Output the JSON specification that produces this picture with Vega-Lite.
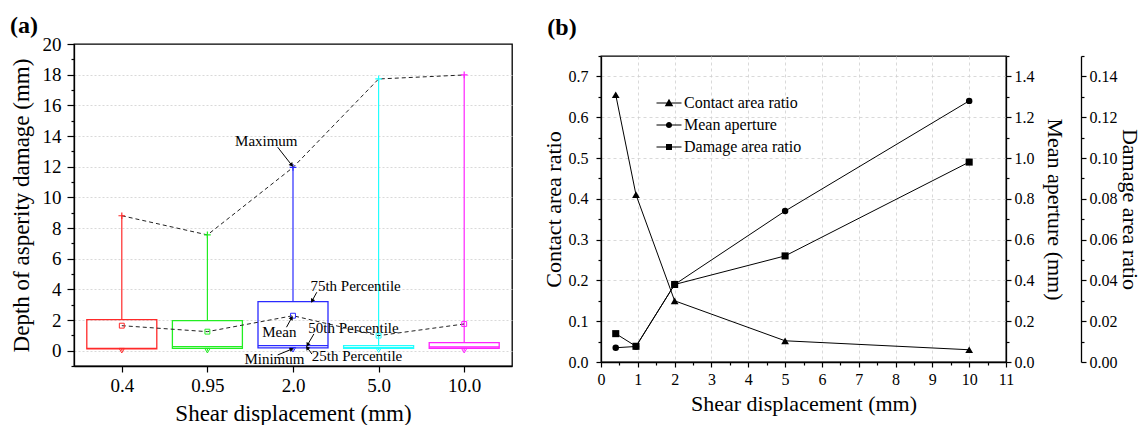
{
  "$schema": "https://vega.github.io/schema/vega-lite/v6.json",
  "background": "white",
  "padding": {"left": 9, "top": 13, "right": 0, "bottom": 0},
  "spacing": 28,
  "resolve": {"legend": {"shape": "independent"}},
  "config": {
    "font": "Liberation Serif",
    "view": {"stroke": "black", "strokeWidth": 1.3},
    "axis": {
      "labelFont": "Liberation Serif",
      "titleFont": "Liberation Serif",
      "labelColor": "black",
      "titleColor": "black",
      "titleFontWeight": "normal",
      "domainColor": "black",
      "tickColor": "black",
      "domainWidth": 1.3,
      "tickWidth": 1.2,
      "labelFlush": false,
      "labelOverlap": false,
      "gridColor": "#cfcfcf",
      "gridWidth": 0.8
    },
    "title": {
      "font": "Liberation Serif",
      "fontWeight": "bold",
      "fontSize": 24,
      "anchor": "start",
      "frame": "bounds",
      "color": "black"
    }
  },
  "hconcat": [
    {
      "width": 438,
      "height": 322,
      "view": {"stroke": "black", "strokeWidth": 1.3},
      "title": {"text": "(a)", "offset": -3},
      "data": {
        "values": [
          {"group": 1, "shear": "0.4", "min": 0.0, "q1": 0.12, "median": 0.15, "q3": 2.02, "max": 8.8, "mean": 1.63},
          {"group": 2, "shear": "0.95", "min": 0.0, "q1": 0.15, "median": 0.26, "q3": 1.96, "max": 7.55, "mean": 1.24},
          {"group": 3, "shear": "2.0", "min": 0.06, "q1": 0.18, "median": 0.33, "q3": 3.2, "max": 11.95, "mean": 2.28},
          {"group": 4, "shear": "5.0", "min": 0.04, "q1": 0.15, "median": 0.2, "q3": 0.33, "max": 17.72, "mean": 0.98},
          {"group": 5, "shear": "10.0", "min": 0.0, "q1": 0.15, "median": 0.24, "q3": 0.52, "max": 17.98, "mean": 1.74}
        ]
      },
      "resolve": {"axis": {"x": "independent", "y": "independent"}},
      "layer": [
        {
          "mark": {"type": "bar", "filled": false, "width": 70, "strokeWidth": 1.3},
          "encoding": {
            "x": {
              "field": "group", "type": "quantitative",
              "scale": {"domain": [0.5, 5.5], "nice": false, "zero": false},
              "axis": {
                "orient": "bottom",
                "values": [1, 2, 3, 4, 5],
                "labelExpr": "datum.value == 1 ? '0.4' : datum.value == 2 ? '0.95' : datum.value == 3 ? '2.0' : datum.value == 4 ? '5.0' : '10.0'",
                "title": "Shear displacement (mm)",
                "grid": false,
                "tickSize": 6,
                "labelFontSize": 19,
                "titleFontSize": 23,
                "labelPadding": 4,
                "titlePadding": 7
              }
            },
            "y": {
              "field": "q1", "type": "quantitative",
              "scale": {"domain": [-1, 20], "nice": false, "zero": false},
              "axis": {
                "orient": "left",
                "values": [0, 2, 4, 6, 8, 10, 12, 14, 16, 18, 20],
                "title": "Depth of asperity damage (mm)",
                "grid": true,
                "gridDash": [2, 2],
                "gridOpacity": {"condition": {"test": "datum.value >= 20", "value": 0}, "value": 1},
                "tickSize": 7,
                "labelFontSize": 19,
                "titleFontSize": 23,
                "labelPadding": 6,
                "titlePadding": 9
              }
            },
            "y2": {"field": "q3"},
            "color": {
              "field": "shear", "type": "nominal",
              "scale": {"domain": ["0.4", "0.95", "2.0", "5.0", "10.0"], "range": ["#ff2a2a", "#22ee22", "#2a2aff", "#22ffff", "#ff22ff"]},
              "legend": null
            }
          }
        },
        {
          "mark": {"type": "bar", "filled": false, "width": 70, "strokeWidth": 1.3},
          "encoding": {
            "x": {"field": "group", "type": "quantitative", "axis": null},
            "y": {"field": "median", "type": "quantitative", "axis": null},
            "y2": {"field": "median"},
            "color": {"field": "shear", "type": "nominal", "legend": null}
          }
        },
        {
          "mark": {"type": "rule", "strokeWidth": 1.2},
          "encoding": {
            "x": {"field": "group", "type": "quantitative", "axis": null},
            "y": {"field": "q3", "type": "quantitative", "axis": null},
            "y2": {"field": "max"},
            "color": {"field": "shear", "type": "nominal", "legend": null}
          }
        },
        {
          "mark": {"type": "rule", "strokeWidth": 1.2},
          "encoding": {
            "x": {"field": "group", "type": "quantitative", "axis": null},
            "y": {
              "field": "min", "type": "quantitative",
              "axis": {
                "orient": "left",
                "values": [-1, 1, 3, 5, 7, 9, 11, 13, 15, 17, 19],
                "labels": false,
                "domain": false,
                "grid": false,
                "tickSize": 3,
                "title": null
              }
            },
            "y2": {"field": "q1"},
            "color": {"field": "shear", "type": "nominal", "legend": null}
          }
        },
        {
          "mark": {"type": "line", "strokeDash": [4, 3], "strokeWidth": 1, "color": "#222222"},
          "encoding": {
            "x": {"field": "group", "type": "quantitative", "axis": null},
            "y": {"field": "max", "type": "quantitative", "axis": null}
          }
        },
        {
          "mark": {"type": "line", "strokeDash": [4, 3], "strokeWidth": 1, "color": "#222222"},
          "encoding": {
            "x": {"field": "group", "type": "quantitative", "axis": null},
            "y": {"field": "mean", "type": "quantitative", "axis": null}
          }
        },
        {
          "mark": {"type": "point", "shape": "M-1,0H1M0,-1V1", "filled": false, "size": 45, "strokeWidth": 1.2, "opacity": 1},
          "encoding": {
            "x": {"field": "group", "type": "quantitative", "axis": null},
            "y": {"field": "max", "type": "quantitative", "axis": null},
            "color": {"field": "shear", "type": "nominal", "legend": null}
          }
        },
        {
          "mark": {"type": "point", "shape": "triangle-down", "filled": false, "size": 28, "strokeWidth": 1, "opacity": 1},
          "encoding": {
            "x": {"field": "group", "type": "quantitative", "axis": null},
            "y": {"field": "min", "type": "quantitative", "axis": null},
            "color": {"field": "shear", "type": "nominal", "legend": null}
          }
        },
        {
          "mark": {"type": "point", "shape": "square", "filled": false, "size": 24, "strokeWidth": 1, "opacity": 1},
          "encoding": {
            "x": {"field": "group", "type": "quantitative", "axis": null},
            "y": {"field": "mean", "type": "quantitative", "axis": null},
            "color": {"field": "shear", "type": "nominal", "legend": null}
          }
        },
        {
          "data": {
            "values": [
              {"x": 2.821, "y": 13.27, "x2": 2.985, "y2": 12.1, "angle": 141},
              {"x": 3.278, "y": 3.81, "x2": 3.223, "y2": 3.25, "angle": 208},
              {"x": 2.924, "y": 1.53, "x2": 2.985, "y2": 2.15, "angle": 31},
              {"x": 3.244, "y": 1.09, "x2": 3.17, "y2": 0.38, "angle": 210},
              {"x": 2.821, "y": -0.28, "x2": 2.985, "y2": 0.1, "angle": 68},
              {"x": 3.221, "y": -0.22, "x2": 3.166, "y2": 0.2, "angle": 323}
            ]
          },
          "layer": [
            {
              "mark": {"type": "rule", "color": "black", "strokeWidth": 1},
              "encoding": {
                "x": {"field": "x", "type": "quantitative", "axis": null},
                "y": {"field": "y", "type": "quantitative", "axis": null},
                "x2": {"field": "x2"},
                "y2": {"field": "y2"}
              }
            },
            {
              "mark": {"type": "point", "shape": "triangle-up", "filled": true, "size": 22, "color": "black", "opacity": 1},
              "encoding": {
                "x": {"field": "x2", "type": "quantitative", "axis": null},
                "y": {"field": "y2", "type": "quantitative", "axis": null},
                "angle": {"field": "angle", "type": "quantitative", "scale": null}
              }
            }
          ]
        },
        {
          "data": {
            "values": [
              {"label": "Maximum", "x": 2.688, "y": 13.7},
              {"label": "75th Percentile", "x": 3.731, "y": 4.2},
              {"label": "Mean", "x": 2.84, "y": 1.2},
              {"label": "50th Percentile", "x": 3.706, "y": 1.46},
              {"label": "Minimum", "x": 2.783, "y": -0.54},
              {"label": "25th Percentile", "x": 3.748, "y": -0.37}
            ]
          },
          "mark": {"type": "text", "font": "Liberation Serif", "fontSize": 15, "color": "black", "align": "center", "baseline": "middle"},
          "encoding": {
            "x": {"field": "x", "type": "quantitative", "axis": null},
            "y": {"field": "y", "type": "quantitative", "axis": null},
            "text": {"field": "label"}
          }
        }
      ]
    },
    {
      "title": {"text": "(b)", "offset": 3, "dx": 6},
      "spacing": 0,
      "resolve": {"legend": {"shape": "independent"}},
      "vconcat": [
        {
          "width": 405,
          "height": 9,
          "view": {"stroke": null},
          "data": {"values": [{"blank": ""}]},
          "mark": {"type": "text"},
          "encoding": {"text": {"field": "blank"}}
        },
        {
          "width": 405,
          "height": 306,
          "view": {"stroke": "black", "strokeWidth": 1.3},
          "data": {
            "values": [
              {"shear": 0.4, "contact": 0.655, "aperture": 0.07, "damage": 0.0139},
              {"shear": 0.95, "contact": 0.41, "aperture": 0.076, "damage": 0.0077},
              {"shear": 2, "contact": 0.15, "aperture": 0.38, "damage": 0.038},
              {"shear": 5, "contact": 0.052, "aperture": 0.74, "damage": 0.052},
              {"shear": 10, "contact": 0.03, "aperture": 1.28, "damage": 0.098}
            ]
          },
          "resolve": {"scale": {"y": "independent"}, "axis": {"x": "independent", "y": "independent"}},
          "layer": [
            {
              "resolve": {"axis": {"x": "independent", "y": "independent"}},
              "layer": [
                {
                  "mark": {"type": "line", "color": "black", "strokeWidth": 1},
                  "encoding": {
                    "x": {
                      "field": "shear", "type": "quantitative",
                      "scale": {"domain": [0, 11], "nice": false, "zero": false},
                      "axis": {
                        "orient": "bottom",
                        "values": [0, 1, 2, 3, 4, 5, 6, 7, 8, 9, 10, 11],
                        "title": "Shear displacement (mm)",
                        "grid": true,
                        "gridDash": [3, 3],
                        "tickSize": 5,
                        "labelFontSize": 16,
                        "titleFontSize": 22,
                        "labelPadding": 4,
                        "titlePadding": 6
                      }
                    },
                    "y": {
                      "field": "contact", "type": "quantitative",
                      "scale": {"domain": [0, 0.75], "nice": false, "zero": false},
                      "axis": {
                        "orient": "left",
                        "values": [0, 0.1, 0.2, 0.3, 0.4, 0.5, 0.6, 0.7],
                        "format": ".1f",
                        "title": "Contact area ratio",
                        "grid": true,
                        "gridDash": [3, 3],
                        "tickSize": 5,
                        "labelFontSize": 16,
                        "titleFontSize": 22,
                        "labelPadding": 8,
                        "titlePadding": 3
                      }
                    }
                  }
                },
                {
                  "mark": {"type": "point", "shape": "triangle-up", "filled": true, "size": 60, "color": "black", "opacity": 1},
                  "encoding": {
                    "x": {
                      "field": "shear", "type": "quantitative",
                      "axis": {
                        "orient": "bottom",
                        "values": [0.5, 1.5, 2.5, 3.5, 4.5, 5.5, 6.5, 7.5, 8.5, 9.5, 10.5],
                        "labels": false, "domain": false, "grid": false, "tickSize": 3, "title": null
                      }
                    },
                    "y": {
                      "field": "contact", "type": "quantitative",
                      "axis": {
                        "orient": "left",
                        "values": [0.05, 0.15, 0.25, 0.35, 0.45, 0.55, 0.65, 0.75],
                        "labels": false, "domain": false, "grid": false, "tickSize": 3, "title": null
                      }
                    }
                  }
                }
              ]
            },
            {
              "resolve": {"axis": {"y": "independent"}},
              "layer": [
                {
                  "mark": {"type": "line", "color": "black", "strokeWidth": 1},
                  "encoding": {
                    "x": {"field": "shear", "type": "quantitative", "axis": null},
                    "y": {
                      "field": "aperture", "type": "quantitative",
                      "scale": {"domain": [0, 1.5], "nice": false, "zero": false},
                      "axis": {
                        "orient": "right",
                        "values": [0, 0.2, 0.4, 0.6, 0.8, 1.0, 1.2, 1.4],
                        "format": ".1f",
                        "title": "Mean aperture (mm)",
                        "grid": false,
                        "tickSize": 5,
                        "labelFontSize": 16,
                        "titleFontSize": 22,
                        "labelPadding": 3,
                        "titlePadding": 8
                      }
                    }
                  }
                },
                {
                  "mark": {"type": "point", "shape": "circle", "filled": true, "size": 42, "color": "black", "opacity": 1},
                  "encoding": {
                    "x": {"field": "shear", "type": "quantitative", "axis": null},
                    "y": {
                      "field": "aperture", "type": "quantitative",
                      "axis": {
                        "orient": "right",
                        "values": [0.1, 0.3, 0.5, 0.7, 0.9, 1.1, 1.3, 1.5],
                        "labels": false, "domain": false, "grid": false, "tickSize": 3, "title": null
                      }
                    }
                  }
                }
              ]
            },
            {
              "resolve": {"axis": {"y": "independent"}},
              "layer": [
                {
                  "mark": {"type": "line", "color": "black", "strokeWidth": 1},
                  "encoding": {
                    "x": {"field": "shear", "type": "quantitative", "axis": null},
                    "y": {
                      "field": "damage", "type": "quantitative",
                      "scale": {"domain": [0, 0.15], "nice": false, "zero": false},
                      "axis": {
                        "orient": "right",
                        "offset": 75,
                        "values": [0, 0.02, 0.04, 0.06, 0.08, 0.1, 0.12, 0.14],
                        "format": ".2f",
                        "title": "Damage area ratio",
                        "grid": false,
                        "tickSize": 5,
                        "labelFontSize": 16,
                        "titleFontSize": 22,
                        "labelPadding": 3,
                        "titlePadding": 0
                      }
                    }
                  }
                },
                {
                  "mark": {"type": "point", "shape": "square", "filled": true, "size": 50, "color": "black", "opacity": 1},
                  "encoding": {
                    "x": {"field": "shear", "type": "quantitative", "axis": null},
                    "y": {
                      "field": "damage", "type": "quantitative",
                      "axis": {
                        "orient": "right",
                        "offset": 75,
                        "values": [0.01, 0.03, 0.05, 0.07, 0.09, 0.11, 0.13, 0.15],
                        "labels": false, "domain": false, "grid": false, "tickSize": 3, "title": null
                      }
                    }
                  }
                }
              ]
            },
            {
              "data": {
                "values": [
                  {"series": "Contact area ratio"},
                  {"series": "Mean aperture"},
                  {"series": "Damage area ratio"}
                ]
              },
              "mark": {"type": "point", "filled": true, "color": "black", "opacity": 0},
              "encoding": {
                "shape": {
                  "field": "series", "type": "nominal",
                  "scale": {
                    "domain": ["Contact area ratio", "Mean aperture", "Damage area ratio"],
                    "range": [
                      "M-2.5,-0.1H2.5V0.1H-2.5ZM0,-0.85L0.85,0.65H-0.85Z",
                      "M-2.5,-0.1H2.5V0.1H-2.5ZM0.62,0A0.62,0.62,0,1,1,-0.62,0A0.62,0.62,0,1,1,0.62,0Z",
                      "M-2.5,-0.1H2.5V0.1H-2.5ZM-0.6,-0.6H0.6V0.6H-0.6Z"
                    ]
                  },
                  "legend": {
                    "orient": "none",
                    "legendX": 60,
                    "legendY": 39,
                    "title": null,
                    "labelFont": "Liberation Serif",
                    "labelFontSize": 16,
                    "labelColor": "black",
                    "symbolSize": 100,
                    "symbolOpacity": 1,
                    "symbolFillColor": "black",
                    "rowPadding": 6,
                    "labelOffset": 7,
                    "padding": 0
                  }
                }
              }
            }
          ]
        }
      ]
    }
  ]
}
